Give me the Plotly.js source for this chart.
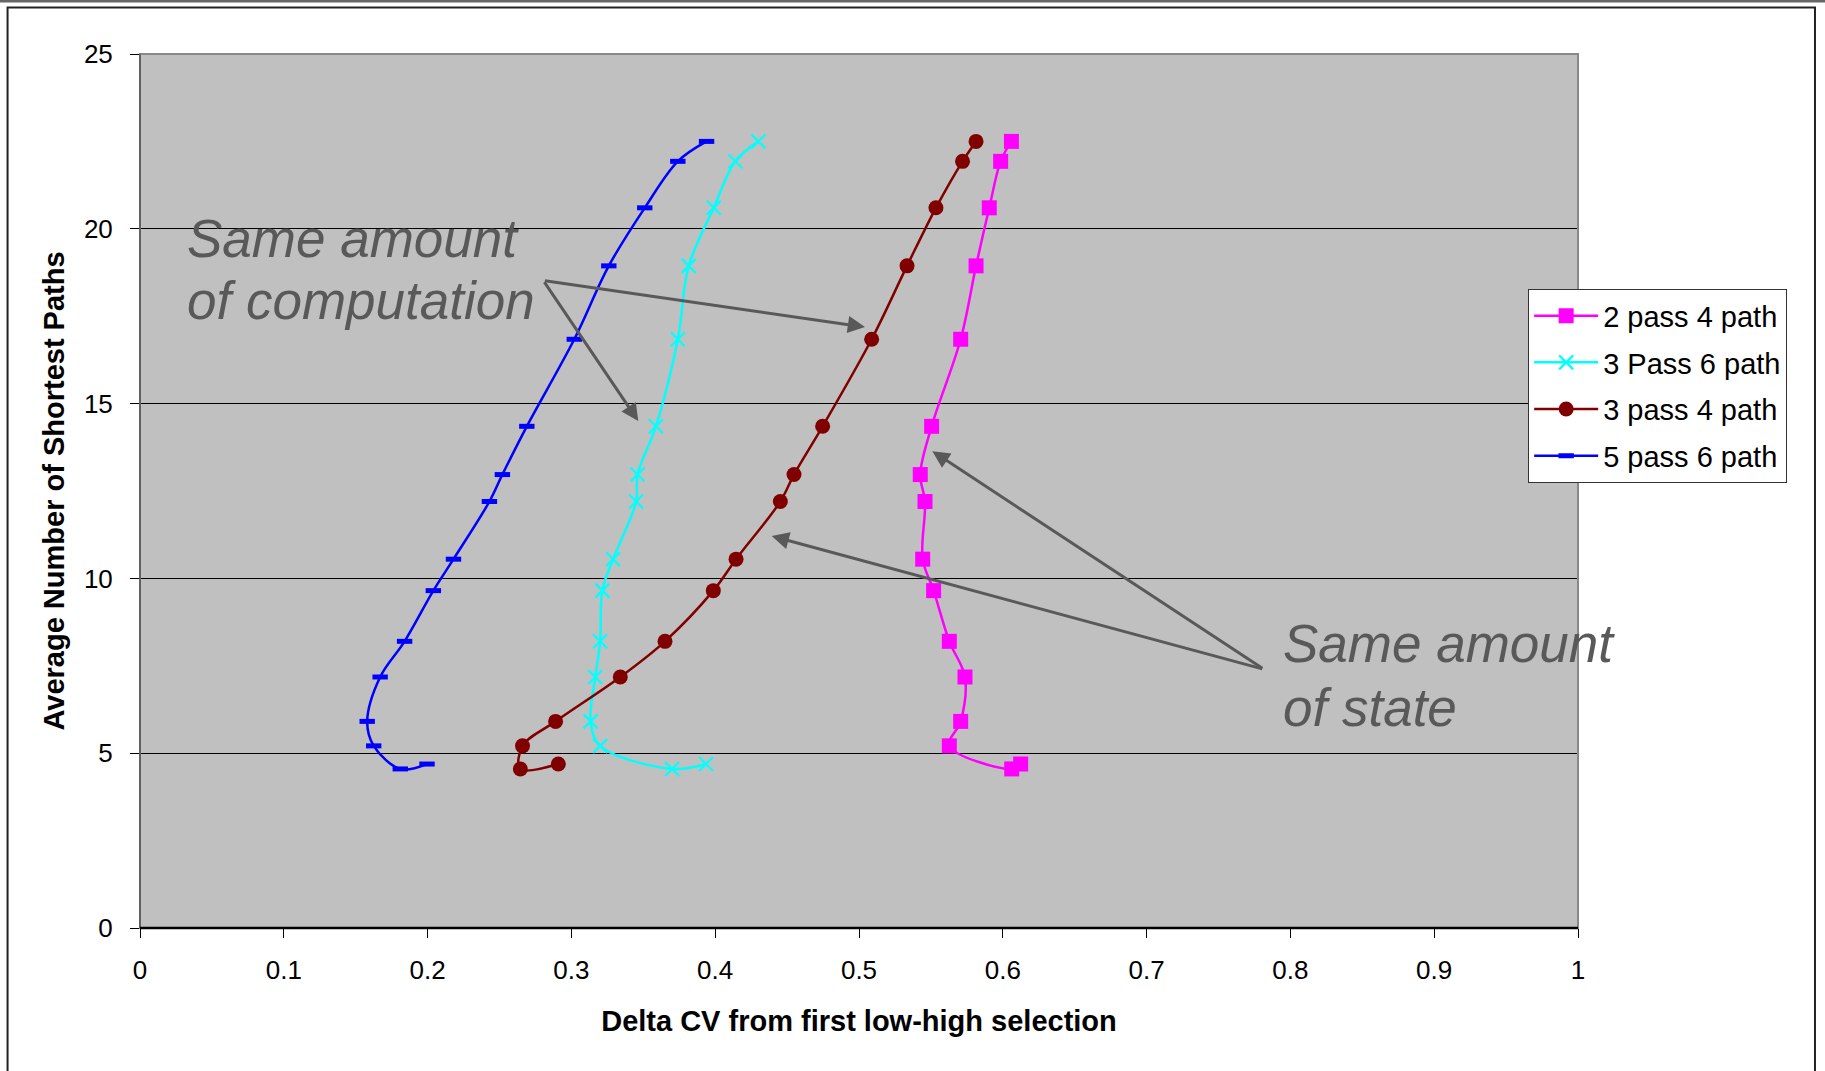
<!DOCTYPE html>
<html>
<head>
<meta charset="utf-8">
<script src="https://cdn.plot.ly/plotly-3.0.1.min.js"></script>
<style>
  html, body { margin: 0; padding: 0; background: #ffffff; }
  #chart { width: 1825px; height: 1071px; }
</style>
</head>
<body>
<div id="chart"></div>
<script>
// Shared y values (Average Number of Shortest Paths) for every series
const yValues = [22.5, 21.93, 20.6, 18.94, 16.84, 14.35, 12.97, 12.2, 10.55, 9.65, 8.2, 7.18, 5.91, 5.21, 4.55, 4.69];

// x values (Delta CV from first low-high selection)
const pass2path4 = [0.606, 0.5985, 0.5906, 0.5814, 0.5707, 0.5505, 0.5426, 0.5459, 0.5443, 0.5519, 0.5628, 0.5737, 0.5707, 0.5628, 0.6062, 0.6124];
const pass3path6 = [0.430, 0.414, 0.399, 0.3816, 0.374, 0.3588, 0.346, 0.345, 0.329, 0.3215, 0.320, 0.3166, 0.3134, 0.320, 0.370, 0.3936];
const pass3path4 = [0.5814, 0.572, 0.5535, 0.5334, 0.5088, 0.4747, 0.4548, 0.4453, 0.4145, 0.3987, 0.3651, 0.334, 0.289, 0.266, 0.2645, 0.2909];
const pass5path6 = [0.394, 0.374, 0.351, 0.326, 0.302, 0.269, 0.252, 0.243, 0.218, 0.204, 0.184, 0.167, 0.158, 0.1625, 0.181, 0.1996];

const seriesNames = ['2 pass 4 path', '3 Pass 6 path', '3 pass 4 path', '5 pass 6 path'];

// Annotation texts
const noteComputation = ['Same amount', 'of computation'];
const noteState = ['Same amount', 'of state'];

const FONT = '"Liberation Sans", Arial, Helvetica, sans-serif';
const ANN = '#595959';

const common = { mode: 'lines+markers', line: { shape: 'spline', smoothing: 1, width: 2.5 } };

const traces = [
  Object.assign({}, common, {
    x: pass2path4, y: yValues, name: seriesNames[0], legendgroup: 'a',
    line: Object.assign({}, common.line, { color: '#FF00FF' }),
    marker: { symbol: 'square', size: 15, color: '#FF00FF' }
  }),
  Object.assign({}, common, {
    x: pass3path6, y: yValues, name: seriesNames[1], legendgroup: 'b',
    line: Object.assign({}, common.line, { color: '#00FFFF' }),
    marker: { symbol: 'x-thin-open', size: 14, color: '#00FFFF', line: { color: '#00FFFF', width: 2.2 } }
  }),
  Object.assign({}, common, {
    x: pass3path4, y: yValues, name: seriesNames[2], legendgroup: 'c',
    line: Object.assign({}, common.line, { color: '#800000' }),
    marker: { symbol: 'circle', size: 15, color: '#800000' }
  }),
  Object.assign({}, common, {
    x: pass5path6, y: yValues, name: seriesNames[3], legendgroup: 'd',
    line: Object.assign({}, common.line, { color: '#0000FF' }),
    marker: { symbol: 'line-ew', size: 11, color: '#0000FF', line: { color: '#0000FF', width: 5 } }
  })
];

function arrow(x, y, ax, ay) {
  return { x: x, y: y, ax: ax, ay: ay, xref: 'x', yref: 'y', axref: 'x', ayref: 'y',
           text: '', showarrow: true, arrowhead: 2, arrowsize: 1.15, arrowwidth: 3,
           arrowcolor: ANN, standoff: 0, startstandoff: 0 };
}
function note(text, x, y) {
  return { x: x, y: y, xref: 'x', yref: 'y', text: text, showarrow: false,
           xanchor: 'left', yanchor: 'middle',
           font: { family: FONT, size: 53, color: ANN, style: 'italic' } };
}

const annotations = [
  arrow(0.5042, 17.19, 0.2805, 18.52),
  arrow(0.3465, 14.50, 0.2805, 18.52),
  arrow(0.551, 13.64, 0.7815, 7.40),
  arrow(0.4393, 11.21, 0.7815, 7.40),
  note(noteComputation[0], 0.0313, 19.72),
  note(noteComputation[1], 0.0313, 17.95),
  note(noteState[0], 0.7935, 8.14),
  note(noteState[1], 0.7935, 6.31)
];

const shapes = [
  // outer top bar
  { type: 'rect', xref: 'paper', yref: 'paper', x0: -0.1, x1: 1.18, y0: 1.0590, y1: 1.07,
    line: { width: 0 }, fillcolor: '#666666' },
  // outer frame
  { type: 'rect', xref: 'paper', yref: 'paper', x0: -0.0921, x1: 1.1648, y0: -0.2, y1: 1.0532,
    line: { color: '#222222', width: 2 } },
  // plot area border
  { type: 'rect', xref: 'paper', yref: 'paper', x0: 0, x1: 1, y0: 0, y1: 1,
    line: { color: '#888888', width: 2 } },
  { type: 'line', xref: 'paper', yref: 'paper', x0: 0, x1: 0, y0: 0, y1: 1,
    line: { color: '#555555', width: 1.5 } },
  { type: 'line', xref: 'paper', yref: 'paper', x0: 0, x1: 1, y0: 0, y1: 0,
    line: { color: '#000000', width: 2.5 } }
];

const layout = {
  width: 1825, height: 1071,
  margin: { l: 140, r: 247, t: 54, b: 143, pad: 0 },
  paper_bgcolor: '#ffffff',
  plot_bgcolor: '#C0C0C0',
  font: { family: FONT, size: 26, color: '#000000' },
  showlegend: true,
  legend: {
    x: 0.9652, y: 0.731, xanchor: 'left', yanchor: 'top',
    bgcolor: '#ffffff', bordercolor: '#333333', borderwidth: 1.2,
    font: { family: FONT, size: 29, color: '#000000' },
    tracegroupgap: 6, itemwidth: 64
  },
  xaxis: {
    range: [0, 1], dtick: 0.1, tick0: 0,
    showgrid: false, zeroline: false, showline: false,
    ticks: 'outside', ticklen: 9, tickwidth: 1, tickcolor: '#000000',
    ticklabelstandoff: 10,
    tickfont: { family: FONT, size: 26, color: '#000000' },
    title: { text: 'Delta CV from first low-high selection', standoff: 26,
             font: { family: FONT, size: 29, color: '#000000', weight: 'bold' } },
    automargin: false
  },
  yaxis: {
    range: [0, 25], dtick: 5, tick0: 0,
    showgrid: true, gridcolor: '#000000', gridwidth: 1,
    zeroline: false, showline: false,
    ticks: 'outside', ticklen: 9, tickwidth: 1, tickcolor: '#000000',
    ticklabelstandoff: 12,
    tickfont: { family: FONT, size: 26, color: '#000000' },
    title: { text: 'Average Number of Shortest Paths', standoff: 10,
             font: { family: FONT, size: 29, color: '#000000', weight: 'bold' } },
    automargin: false
  },
  annotations: annotations,
  shapes: shapes
};

Plotly.newPlot('chart', traces, layout, { displayModeBar: false, staticPlot: true });
</script>
</body>
</html>
